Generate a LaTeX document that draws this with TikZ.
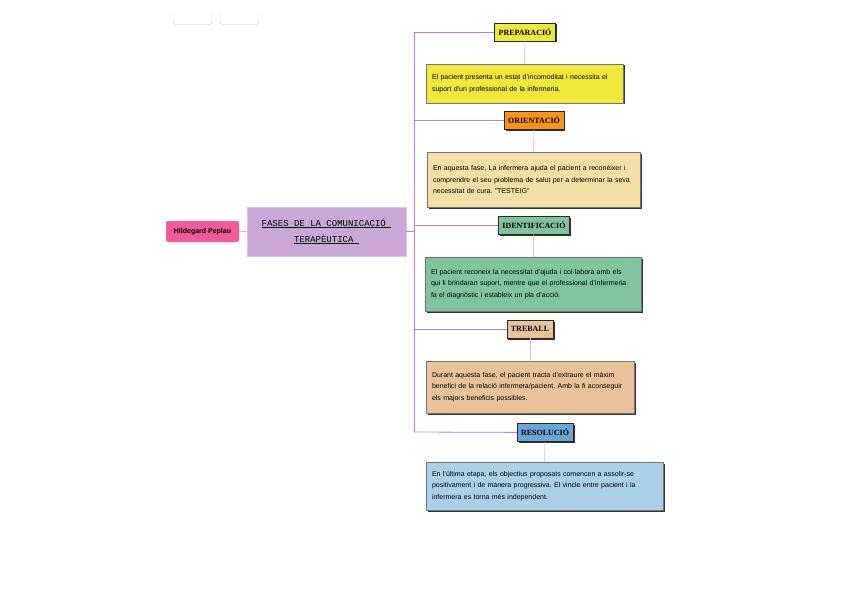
\documentclass[tikz,border=0pt]{standalone}
\usepackage{fontspec}
\setmainfont{Liberation Sans}
\newfontfamily\headfont{Liberation Serif}
\newfontfamily\titlefont{Liberation Mono}
\usepackage{tikz}
\usetikzlibrary{shadows}
\usepackage{xcolor}
\frenchspacing

\definecolor{prepyellow}{HTML}{EFE93E}
\definecolor{orientorange}{HTML}{F7941D}
\definecolor{orientwheat}{HTML}{F2DFA6}
\definecolor{identgreen}{HTML}{80C49D}
\definecolor{treballtan}{HTML}{E9C29C}
\definecolor{resolblue}{HTML}{6BA6D7}
\definecolor{resollight}{HTML}{A9D0E8}
\definecolor{peplaupink}{HTML}{F25A9C}
\definecolor{faseslilac}{HTML}{C9A7D6}
\definecolor{trunkpurple}{HTML}{B77BD3}
\definecolor{stemlilac}{HTML}{D9AEE8}

\begin{document}
\begin{tikzpicture}[x=1pt, y=-1pt,
  phase/.style={draw=black!85, line width=0.5pt, inner xsep=4pt, inner ysep=2pt,
    minimum height=18pt, font=\fontsize{8}{9}\headfont\bfseries,
    drop shadow={shadow xshift=1.5pt, shadow yshift=-1.5pt, fill=black!80, opacity=1}},
  info/.style={draw=black!55, line width=0.5pt, inner xsep=6pt, inner ysep=0pt,
    align=left, font=\fontsize{7}{11.5}\selectfont,
    drop shadow={shadow xshift=1.5pt, shadow yshift=-1.5pt, fill=black!80, opacity=1}},
  trunk/.style={draw=trunkpurple, line width=0.8pt},
  stem/.style={draw=stemlilac, line width=0.7pt}]

  % canvas in pixels of the reference
  \useasboundingbox (0,0) rectangle (848,599);

  % the two little tabs at the top
  \draw[black!25, rounded corners=3pt] (173,14) -- (173,24.5) -- (212,24.5) -- (212,14);
  \draw[black!25, rounded corners=3pt] (220,14) -- (220,24.5) -- (259,24.5) -- (259,14);

  % central topic and the author
  \node[fill=faseslilac, draw=faseslilac!70!white, minimum width=159pt, minimum height=49pt,
    align=center, font=\fontsize{9}{16}\titlefont] (fases) at (326.5,231.5)
    {\underline{FASES DE LA COMUNICACIÓ }\\\underline{TERAPÈUTICA }};
  \node[fill=peplaupink, rounded corners=2pt, minimum width=73pt, minimum height=21pt,
    font=\fontsize{7}{8}\selectfont\bfseries] (peplau) at (202.5,231.5) {Hildegard Peplau};
  \draw[stem] (peplau.east) -- (fases.west);

  % trunk of the map
  \coordinate (ttop) at (414,32);
  \coordinate (tbot) at (414,432);
  \draw[trunk] (ttop) -- (tbot);
  \draw[trunk] (fases.east) -- (fases.east -| ttop);

  % PREPARACIO
  \node[phase, fill=prepyellow] (prep) at (525,32) {PREPARACIÓ};
  \node[info, fill=prepyellow, minimum width=197pt, minimum height=39pt, text width=185pt] (prepinfo) at (524.5,83.5)
    {El pacient presenta un estat d'incomoditat i necessita el\\suport d'un professional de la infermeria.};
  \draw[trunk] (ttop) -- (prep);
  \draw[stem] (prep) -- (prepinfo);

  % ORIENTACIO
  \node[phase, fill=orientorange] (orient) at (534,120.5) {ORIENTACIÓ};
  \node[info, fill=orientwheat, minimum width=213pt, minimum height=55pt, text width=201pt] (orientinfo) at (533.5,179.5)
    {En aquesta fase, La infermera ajuda el pacient a reconèixer i\\comprendre el seu problema de salut per a determinar la seva\\necessitat de cura. "TESTEIG"};
  \draw[trunk] (ttop |- orient) -- (orient);
  \draw[stem] (orient) -- (orientinfo);

  % IDENTIFICACIO
  \node[phase, fill=identgreen] (ident) at (534,225.5) {IDENTIFICACIÓ};
  \node[info, fill=identgreen, minimum width=216pt, minimum height=54pt, text width=204pt] (identinfo) at (533,284)
    {El pacient reconeix la necessitat d'ajuda i col·labora amb els\\qui li brindaran suport, mentre que el professional d'infermeria\\fa el diagnòstic i estableix un pla d'acció.};
  \draw[trunk] (ttop |- ident) -- (ident);
  \draw[stem] (ident) -- (identinfo);

  % TREBALL
  \node[phase, fill=treballtan] (treball) at (530,329) {TREBALL};
  \node[info, fill=treballtan, minimum width=208pt, minimum height=52pt, text width=196pt] (treballinfo) at (530,387)
    {Durant aquesta fase, el pacient tracta d'extraure el màxim\\benefici de la relació infermera/pacient. Amb la fi aconseguir\\els majors beneficis possibles.};
  \draw[trunk] (ttop |- treball) -- (treball);
  \draw[stem] (treball) -- (treballinfo);

  % RESOLUCIO
  \node[phase, fill=resolblue] (resol) at (545,432.5) {RESOLUCIÓ};
  \node[info, fill=resollight, minimum width=237pt, minimum height=48pt, text width=225pt] (resolinfo) at (544.5,486)
    {En l'última etapa, els objectius proposats comencen a assolir-se\\positivament i de manera progressiva. El vincle entre pacient i la\\infermera es torna més independent.};
  \draw[trunk] (tbot) -- (resol);
  \draw[stem] (resol) -- (resolinfo);
\end{tikzpicture}
\end{document}
